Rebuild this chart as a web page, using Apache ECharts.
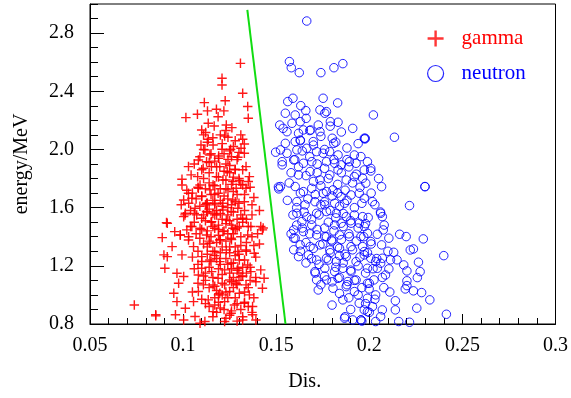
<!DOCTYPE html>
<html>
<head>
<meta charset="utf-8">
<script src="https://cdn.jsdelivr.net/npm/echarts@6/dist/echarts.min.js"></script>
<style>html,body{margin:0;padding:0;background:#fff}#c{width:571px;height:398px}</style>
</head>
<body>
<div id="c"></div>
<script>
// ---- data ----
const xTickLabels = ['0.05','0.1','0.15','0.2','0.25','0.3'];
const yTickLabels = ['0.8','1.2','1.6','2.0','2.4','2.8'];
const seriesNames = ['gamma','neutron'];
// divider line endpoints [Dis., energy]
const dividerLine = [[0.1345,2.96],[0.1550,0.80]];

const gammaPoints = [
[0.1308,2.592],[0.1209,2.489],[0.1209,2.443],[0.1320,2.386],[0.1226,2.335],[0.1114,2.322],[0.1347,2.295],
[0.1131,2.265],[0.1077,2.242],[0.1015,2.219],[0.1179,2.276],[0.1219,2.265],[0.1188,2.225],[0.1350,2.214],
[0.1135,2.180],[0.1167,2.161],[0.1232,2.168],[0.1262,2.150],[0.1100,2.134],[0.1121,2.116],[0.1223,2.093],
[0.1241,2.084],[0.1320,2.070],[0.1135,2.070],[0.1096,2.031],[0.1161,2.031],[0.1329,2.038],[0.1311,2.008],
[0.1117,1.997],[0.1209,2.001],[0.1255,2.001],[0.1329,1.974],[0.1144,1.962],[0.1191,1.955],[0.1082,1.928],
[0.1126,1.916],[0.1241,1.932],[0.1294,1.946],[0.1029,1.882],[0.1043,1.825],[0.1108,1.871],[0.1152,1.882],
[0.1197,1.882],[0.1237,1.848],[0.1279,1.864],[0.1338,1.882],[0.1356,1.813],[0.0994,1.795],[0.1078,1.813],
[0.1179,1.813],[0.1214,1.790],[0.1267,1.779],[0.0994,1.756],[0.1091,1.756],[0.1161,1.756],[0.1320,1.756],
[0.1302,1.786],
[0.1029,1.699],[0.1082,1.733],[0.1003,1.653],[0.1047,1.664],[0.1100,1.676],[0.1144,1.722],[0.1188,1.699],
[0.1241,1.722],[0.1285,1.733],[0.1338,1.733],[0.1329,1.641],[0.1267,1.653],[0.1214,1.630],[0.1170,1.619],
[0.1126,1.630],[0.1012,1.561],[0.1003,1.538],[0.1064,1.596],[0.1073,1.550],[0.1126,1.573],[0.1170,1.550],
[0.1214,1.584],[0.1258,1.573],[0.1294,1.596],[0.1320,1.527],[0.1232,1.515],[0.1153,1.504],[0.1100,1.527],
[0.1047,1.470],[0.0915,1.492],[0.0888,1.394],[0.0955,1.435],[0.0985,1.412],[0.1020,1.447],[0.1091,1.458],
[0.1126,1.412],[0.1170,1.458],[0.1214,1.435],[0.1267,1.458],[0.1302,1.470],[0.1364,1.470],[0.1417,1.470],
[0.1426,1.447],[0.1347,1.412],[0.1258,1.390],[0.1197,1.378],[0.1144,1.355],[0.1056,1.332],[0.1029,1.378],
[0.0941,1.332],[0.0897,1.275],[0.0915,1.263],[0.0994,1.275],[0.0902,1.183],[0.0967,1.149],[0.1003,1.126],
[0.0976,1.080],[0.1100,1.263],[0.1170,1.298],[0.1232,1.309],[0.1294,1.298],[0.1338,1.309],[0.1382,1.286],
[0.1144,1.240],[0.1197,1.229],[0.1258,1.218],[0.1302,1.240],[0.1347,1.206],[0.1100,1.183],[0.1153,1.160],
[0.1223,1.172],[0.1294,1.183],[0.1364,1.160],[0.1417,1.172],[0.1435,1.114],[0.1082,1.137],[0.1188,1.114],
[0.1250,1.103],[0.1311,1.126],[0.1391,1.091],[0.1426,1.046],[0.1109,1.069],[0.1161,1.069],[0.1223,1.069],
[0.1285,1.080],[0.1338,1.069],[0.1082,1.023],[0.1197,1.011],[0.1250,1.023],[0.1302,1.011],[0.1356,1.000],
[0.0950,1.011],[0.0967,0.954],[0.1056,0.954],[0.1012,0.908],[0.1135,0.966],[0.1170,0.931],[0.1223,0.954],
[0.1276,0.931],[0.1329,0.943],[0.1373,0.920],[0.1161,0.885],[0.1258,0.874],[0.1373,0.863],[0.0853,0.863],
[0.0959,0.863],[0.1064,0.851],[0.1117,0.817],[0.1223,0.817],[0.1320,0.828],[0.1391,0.828],[0.1003,0.828],
[0.1091,0.805],[0.0738,0.931],[0.0853,0.856],[0.0985,1.412],[0.0911,1.497],
[0.112,1.62],[0.118,1.58],[0.124,1.66],[0.127,1.71],[0.115,1.69],[0.109,1.61],[0.121,1.52],[0.126,1.48],
[0.113,1.44],[0.119,1.41],[0.123,1.37],[0.128,1.33],[0.116,1.30],[0.111,1.35],[0.107,1.42],[0.131,1.40],
[0.134,1.36],[0.129,1.52],[0.133,1.58],[0.137,1.55],[0.114,1.77],[0.119,1.81],[0.125,1.84],[0.130,1.80],
[0.108,1.74],[0.104,1.58],[0.101,1.55],[0.117,1.92],[0.122,1.97],[0.127,2.02],[0.113,2.05],[0.120,2.10],
[0.125,1.89],[0.132,1.86],[0.110,1.86],[0.106,1.90],[0.118,1.25],[0.124,1.21],[0.129,1.17],[0.114,1.19],
[0.110,1.23],[0.121,1.14],[0.126,1.09],[0.132,1.13],[0.136,1.19],[0.117,1.06],[0.112,1.10],[0.123,1.02],
[0.128,0.98],[0.119,0.95],[0.114,0.92],[0.131,0.90],[0.125,0.86],[0.135,1.05],[0.139,1.12],[0.138,1.34],
[0.135,1.47],[0.140,1.42],[0.116,1.47],[0.122,1.44],[0.127,1.42],[0.108,1.30],[0.105,1.26],[0.103,1.40],
[0.112,1.51],[0.118,1.55],[0.130,1.63],[0.124,1.60],[0.116,1.65],[0.120,1.73],[0.126,1.76],[0.111,1.80],
[0.107,1.66],[0.099,1.62],[0.102,1.72],[0.133,1.69],[0.136,1.74],[0.129,1.93],[0.123,1.90],[0.115,1.97],
[0.111,2.00],[0.109,1.95],[0.121,2.04],[0.131,2.10],[0.118,1.36],[0.113,1.28],[0.128,1.27],[0.133,1.24],
[0.120,1.29],[0.125,1.33],[0.115,1.40],[0.110,1.45],[0.106,1.50],[0.132,1.50],[0.137,1.62],[0.141,1.58],
[0.143,1.46],[0.129,1.07],[0.122,0.90],[0.116,0.85],[0.133,0.95],[0.137,0.88],[0.110,0.97],[0.105,1.02],
[0.119,1.00],[0.127,1.12],[0.112,1.15],[0.106,1.18],[0.134,1.30],[0.124,1.55],[0.119,1.48],[0.127,1.57],
[0.113,1.57],[0.121,1.61],[0.117,1.75],[0.123,1.79],[0.128,1.86],[0.114,1.84],
[0.117,1.63],[0.122,1.68],[0.128,1.64],[0.114,1.59],[0.120,1.56],[0.125,1.51],[0.131,1.55],[0.119,1.45],
[0.124,1.42],[0.129,1.46],[0.114,1.37],[0.121,1.33],[0.126,1.38],[0.131,1.34],[0.117,1.27],[0.123,1.25],
[0.127,1.22],[0.132,1.19],[0.119,1.18],[0.125,1.15],[0.130,1.10],[0.116,1.12],[0.121,1.08],[0.127,1.05],
[0.133,1.02],[0.118,1.03],[0.124,0.98],[0.129,0.94],[0.120,0.91],[0.126,0.89],[0.132,0.85],[0.115,1.50],
[0.111,1.55],[0.109,1.39],[0.113,1.33],[0.108,1.21],[0.111,1.13],[0.114,1.05],[0.108,1.08],[0.117,0.98],
[0.112,0.94],[0.118,0.88],[0.123,0.84],[0.129,0.82],[0.135,0.92],[0.138,0.98],[0.136,1.10],[0.139,1.26],
[0.141,1.35],[0.137,1.40],[0.134,1.52],[0.138,1.67],[0.135,1.78],[0.131,1.76],[0.127,1.81],[0.122,1.85],
[0.118,1.88],[0.114,1.91],[0.112,1.73],[0.110,1.68],[0.105,1.70],[0.103,1.63],[0.106,1.56],[0.104,1.47],
[0.117,1.69],[0.123,1.73],[0.129,1.69],[0.119,1.94],[0.125,1.99],[0.116,2.08],[0.123,2.13],[0.128,2.06],
[0.111,2.10],[0.130,1.98],[0.126,1.95],[0.120,1.65],[0.126,1.62],[0.116,1.56],[0.123,1.49],[0.128,1.45],
[0.120,1.38],[0.125,1.29],[0.130,1.28],[0.115,1.23],[0.120,1.21],[0.126,1.18],[0.121,1.00],[0.130,1.15],
[0.134,1.15],[0.113,1.63]
];

const neutronPoints = [
[0.1664,2.883],[0.1571,2.604],[0.1581,2.562],[0.1624,2.528],[0.1740,2.528],[0.1810,2.562],[0.1858,2.590],
[0.1590,2.352],[0.1562,2.329],[0.1632,2.301],[0.1752,2.352],[0.1830,2.320],[0.1659,2.267],[0.1549,2.249],
[0.1602,2.237],[0.1735,2.272],[0.1761,2.249],[0.1770,2.260],[0.1661,2.214],[0.1629,2.191],[0.1585,2.180],
[0.1519,2.168],[0.1537,2.145],[0.1832,2.187],[0.1791,2.191],[0.1911,2.145],[0.1726,2.168],[0.1685,2.134],
[0.1558,2.122],[0.1620,2.111],[0.1646,2.134],[0.1735,2.122],[0.1629,2.065],[0.1602,2.054],[0.1549,2.042],
[0.1699,2.054],[0.1801,2.077],[0.1809,2.042],[0.1973,2.077],[0.1497,1.981],[0.1523,1.997],[0.1558,1.974],
[0.1611,1.997],[0.1664,2.008],[0.1717,1.985],[0.1752,1.974],[0.1787,1.985],[0.1832,1.962],[0.1920,1.962],
[0.1955,1.951],[0.1532,1.916],[0.1594,1.928],[0.1646,1.905],[0.1691,1.916],[0.1770,1.916],[0.1814,1.905],
[0.1849,1.894],[0.1893,1.916],[0.1929,1.905],
[0.2022,2.237],[0.1976,2.072],[0.2135,2.084],[0.1990,1.916],[0.2008,1.870],[0.2066,1.744],[0.2299,1.744],
[0.1978,2.077],
[0.1532,1.894],[0.1523,1.745],[0.1514,1.729],[0.1620,1.825],[0.1682,1.848],[0.1735,1.790],[0.1788,1.825],
[0.1832,1.859],[0.1876,1.790],[0.1920,1.813],[0.1964,1.802],[0.1602,1.745],[0.1646,1.710],[0.1691,1.733],
[0.1752,1.699],[0.1805,1.722],[0.1849,1.676],[0.1902,1.687],[0.1946,1.699],[0.1611,1.641],[0.1655,1.619],
[0.1708,1.641],[0.1761,1.619],[0.1814,1.630],[0.1867,1.630],[0.1611,1.561],[0.1664,1.538],[0.1717,1.561],
[0.1770,1.573],[0.1823,1.561],[0.1876,1.538],[0.1920,1.550],[0.1964,1.538],[0.1638,1.504],[0.1691,1.481],
[0.1814,1.481],[0.1849,1.493],[0.1902,1.493],[0.1946,1.493],[0.1602,1.390],[0.1594,1.447],[0.1646,1.435],
[0.1717,1.412],[0.1761,1.401],[0.1797,1.378],[0.1840,1.412],[0.1893,1.401],[0.1955,1.401],[0.1629,1.344],
[0.1682,1.332],[0.1735,1.344],[0.1788,1.309],[0.1840,1.321],[0.1902,1.332],[0.1964,1.332],[0.1620,1.263],
[0.1673,1.275],[0.1717,1.240],[0.1770,1.252],[0.1823,1.229],[0.1876,1.263],[0.1929,1.229],[0.1973,1.275],
[0.1708,1.160],[0.1761,1.183],[0.1814,1.160],[0.1858,1.183],[0.1902,1.160],[0.1717,1.103],[0.1770,1.103],
[0.1832,1.114],[0.1885,1.092],[0.1929,1.103],[0.1726,1.034],[0.1805,1.046],[0.1876,1.057],[0.1920,1.023],
[0.1858,0.966],[0.1946,0.943],[0.1973,0.897],[0.1867,0.840],[0.1911,0.828],[0.1955,0.828],
[0.1973,1.859],[0.2008,1.852],[0.1981,1.768],[0.2299,1.745],[0.1973,1.664],[0.2017,1.641],[0.2216,1.614],
[0.2061,1.561],[0.2070,1.538],[0.1994,1.532],[0.1973,1.470],[0.1990,1.424],[0.2043,1.417],[0.2075,1.447],
[0.2105,1.390],[0.2163,1.417],[0.2198,1.401],[0.2290,1.385],[0.2008,1.367],[0.2066,1.344],[0.2220,1.309],
[0.2237,1.316],[0.2400,1.270],[0.2131,1.293],[0.1973,1.298],[0.2008,1.252],[0.2034,1.229],[0.2061,1.218],
[0.2070,1.252],[0.2114,1.241],[0.2149,1.241],[0.2264,1.225],[0.2185,1.206],[0.1990,1.183],[0.2043,1.183],
[0.2105,1.179],[0.2202,1.165],[0.2273,1.160],[0.2087,1.137],[0.2258,1.119],[0.2025,1.103],[0.2202,1.097],
[0.1990,1.080],[0.2202,1.064],[0.2193,1.041],[0.2078,1.050],[0.2237,1.028],[0.2281,1.016],[0.1999,1.041],
[0.2034,1.000],[0.2325,0.966],[0.1990,0.977],[0.2017,0.920],[0.2070,0.897],[0.2140,0.897],[0.2255,0.909],
[0.2414,0.867],[0.1990,0.885],[0.2061,0.851],[0.2034,0.817],[0.2158,0.817],[0.2216,0.812],[0.1955,0.828],
[0.1512,1.742],[0.1594,1.390],[0.1594,1.310],
[0.168,1.95],[0.172,1.90],[0.176,1.87],[0.181,1.93],[0.185,1.84],[0.189,1.88],[0.193,1.83],[0.166,1.82],
[0.170,1.78],[0.174,1.75],[0.178,1.80],[0.183,1.76],[0.187,1.72],[0.191,1.77],[0.195,1.74],[0.163,1.70],
[0.167,1.66],[0.171,1.69],[0.176,1.64],[0.180,1.68],[0.184,1.61],[0.188,1.65],[0.192,1.60],[0.196,1.63],
[0.161,1.60],[0.165,1.57],[0.169,1.52],[0.173,1.55],[0.178,1.50],[0.182,1.53],[0.186,1.47],[0.190,1.51],
[0.194,1.46],[0.198,1.49],[0.164,1.46],[0.168,1.42],[0.172,1.45],[0.177,1.40],[0.181,1.44],[0.185,1.38],
[0.189,1.42],[0.193,1.37],[0.197,1.40],[0.201,1.35],[0.166,1.36],[0.170,1.32],[0.175,1.35],[0.179,1.29],
[0.183,1.33],[0.187,1.28],[0.191,1.31],[0.195,1.26],[0.199,1.29],[0.169,1.25],[0.173,1.21],[0.178,1.24],
[0.182,1.19],[0.186,1.22],[0.190,1.17],[0.194,1.20],[0.198,1.15],[0.202,1.18],[0.176,1.13],[0.180,1.09],
[0.184,1.12],[0.188,1.07],[0.192,1.10],[0.196,1.05],[0.200,1.08],[0.184,1.01],[0.189,0.98],[0.194,1.00],
[0.198,0.94],[0.203,0.97],[0.180,0.93],[0.190,0.90],[0.200,0.88],[0.187,0.85],[0.196,0.82],[0.162,1.88],
[0.158,1.84],[0.160,1.93],[0.164,1.99],[0.170,2.03],[0.176,2.00],[0.182,2.05],[0.188,2.01],[0.194,2.04],
[0.174,2.09],[0.168,2.13],[0.179,2.16],[0.185,2.12],[0.163,2.06],[0.157,1.77],[0.156,1.65],[0.159,1.55],
[0.161,1.48],[0.158,1.42],[0.163,1.30],[0.166,1.22],[0.171,1.15],[0.174,1.07],[0.203,1.62],[0.206,1.57],
[0.201,1.70],[0.205,1.80],[0.208,1.48],[0.210,1.30],[0.204,1.25],[0.207,1.12],[0.211,1.02],[0.214,0.96],
[0.186,1.56],[0.179,1.58],[0.174,1.62],[0.183,1.70],[0.177,1.71],[0.172,1.84],[0.188,1.93],[0.180,1.37],
[0.176,1.46],[0.184,1.27]
];

// ---- chart ----
const FONT = '"Liberation Serif", "DejaVu Serif", serif';
const PLUS = 'path://M8.5,0h3v8.5h8.5v3h-8.5v8.5h-3v-8.5h-8.5v-3h8.5z';
const chart = echarts.init(document.getElementById('c'), null, {renderer: 'canvas'});

const baseTextStyle = {fontFamily: FONT, fontSize: 20, color: '#000'};

chart.setOption({
  animation: false,
  backgroundColor: '#fff',
  grid: {left: 90, right: 9, top: 4, bottom: 74, show: true, borderColor: '#000', borderWidth: 1, backgroundColor: 'transparent'},
  legend: {
    orient: 'vertical', left: 422, top: 23, itemWidth: 16, itemHeight: 16, itemGap: 14,
    textStyle: {fontFamily: FONT, fontSize: 21, padding: [0, 0, 0, 13]},
    data: [
      {name: seriesNames[0], icon: PLUS, itemStyle: {color: '#ff2020'}, textStyle: {color: '#ff0000'}},
      {name: seriesNames[1], icon: 'circle', itemStyle: {color: 'transparent', borderColor: '#0000ff', borderWidth: 1.2}, textStyle: {color: '#0000ff'}}
    ]
  },
  xAxis: [
    {
      type: 'value', min: 0.05, max: 0.3, interval: 0.05, position: 'bottom',
      axisLine: {show: true, onZero: false, lineStyle: {color: '#000', width: 1}},
      axisTick: {inside: true, length: 10, lineStyle: {color: '#000'}},
      axisLabel: Object.assign({margin: 12, formatter: v => xTickLabels[Math.round((v - 0.05) / 0.05)] || ''}, baseTextStyle),
      splitLine: {show: false},
      name: 'Dis.', nameLocation: 'middle', nameGap: 48,
      nameTextStyle: Object.assign({padding: [0, 36, 0, 0]}, baseTextStyle)
    },
    {
      type: 'value', min: 0.05, max: 0.3, interval: 0.01, position: 'bottom',
      axisLine: {show: false, onZero: false}, axisTick: {inside: true, length: 6, lineStyle: {color: '#000'}},
      axisLabel: {show: false}, splitLine: {show: false}
    }
  ],
  yAxis: [
    {
      type: 'value', min: 0.8, max: 3.0, interval: 0.4, position: 'left',
      axisLine: {show: true, onZero: false, lineStyle: {color: '#000', width: 1}},
      axisTick: {inside: true, length: 14, lineStyle: {color: '#000'}},
      axisLabel: Object.assign({margin: 16, showMaxLabel: false, formatter: v => yTickLabels[Math.round((v - 0.8) / 0.4)] || ''}, baseTextStyle),
      splitLine: {show: false},
      name: 'energy/MeV', nameLocation: 'middle', nameGap: 58, nameRotate: 90,
      nameTextStyle: baseTextStyle
    },
    {
      type: 'value', min: 0.8, max: 3.0, interval: 0.1, position: 'left',
      axisLine: {show: false, onZero: false}, axisTick: {inside: true, length: 8, lineStyle: {color: '#000'}},
      axisLabel: {show: false}, splitLine: {show: false}
    }
  ],
  series: [
    {
      name: seriesNames[0], type: 'scatter', xAxisIndex: 0, yAxisIndex: 0,
      symbol: PLUS, symbolSize: 9.5,
      itemStyle: {color: '#ff0000', opacity: 0.9},
      data: gammaPoints, silent: true
    },
    {
      name: seriesNames[1], type: 'scatter', xAxisIndex: 0, yAxisIndex: 0,
      symbol: 'circle', symbolSize: 8.5,
      itemStyle: {color: 'transparent', borderColor: '#0000ff', borderWidth: 1, opacity: 0.85},
      data: neutronPoints, silent: true
    },
    {
      name: 'divider', type: 'line', xAxisIndex: 0, yAxisIndex: 0,
      data: dividerLine, showSymbol: false, symbol: 'none',
      lineStyle: {color: '#11dd11', width: 2}, silent: true
    }
  ]
});
</script>
</body>
</html>
